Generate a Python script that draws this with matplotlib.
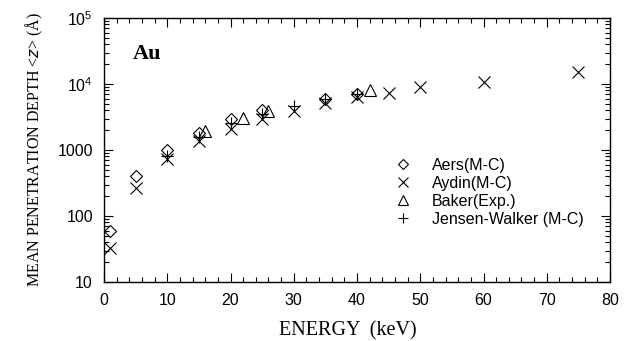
import matplotlib
matplotlib.use('Agg')
from matplotlib import pyplot as plt
from matplotlib.ticker import FixedLocator, FixedFormatter, MultipleLocator, LogLocator, NullFormatter

# data (energy in keV, depth in Angstrom)
aers_x = [1, 5, 10, 15, 20, 25, 35, 40]
aers_y = [59, 400, 1000, 1800, 2950, 4000, 5900, 7100]

aydin_x = [1, 5, 10, 15, 20, 25, 30, 35, 40, 45, 50, 60, 75]
aydin_y = [33, 266, 730, 1370, 2100, 2900, 3900, 5100, 6300, 7300, 9000, 10700, 15200]

baker_x = [16, 22, 26, 42]
baker_y = [1940, 3050, 3900, 8100]

jensen_x = [10, 15, 20, 25, 30, 35, 40]
jensen_y = [810, 1600, 2600, 3500, 4700, 5900, 7100]

ytick_vals = [10, 100, 1000, 1e4, 1e5]
ytick_labels = ['10', '100', '1000', r'$\mathregular{10^4}$', r'$\mathregular{10^5}$']

sans = 'Liberation Sans'
serif = 'Liberation Serif'

fig = plt.figure(figsize=(6.34, 3.41), dpi=100)
ax = fig.add_axes([104/634, 1-282/341, 506/634, 264/341])

mk = dict(linestyle='none', color='black', markerfacecolor='none', markeredgewidth=0.8)
ax.plot(aers_x, aers_y, marker='D', markersize=6.5, label='Aers(M-C)', **mk)
ax.plot(aydin_x, aydin_y, marker='x', markersize=8.5, label='Aydin(M-C)', **mk)
ax.plot(baker_x, baker_y, marker='^', markersize=8, label='Baker(Exp.)', **mk)
ax.plot(jensen_x, jensen_y, marker='+', markersize=9, label='Jensen-Walker (M-C)', **mk)

ax.set_yscale('log')
ax.set_xlim(0, 80)
ax.set_ylim(10, 1e5)

ax.xaxis.set_major_locator(MultipleLocator(10))
ax.xaxis.set_minor_locator(MultipleLocator(2))
ax.yaxis.set_major_locator(FixedLocator(ytick_vals))
ax.yaxis.set_major_formatter(FixedFormatter(ytick_labels))
ax.yaxis.set_minor_locator(LogLocator(base=10, subs=range(2, 10)))
ax.yaxis.set_minor_formatter(NullFormatter())

ax.tick_params(which='both', direction='in', top=True, right=True, width=0.8)
ax.tick_params(which='major', length=6.5, pad=8)
ax.tick_params(which='minor', length=3.5)
for lab in ax.get_xticklabels() + ax.get_yticklabels():
    lab.set_fontfamily(sans)
    lab.set_fontsize(11.5)
for s in ax.spines.values():
    s.set_linewidth(1.0)

ax.set_xlabel('ENERGY  (keV)', fontfamily=serif, fontsize=14.5)
ax.xaxis.set_label_coords(0.482, -0.15)
ax.set_ylabel(r'MEAN PENETRATION DEPTH <$\mathit{z}$> (Å)', fontfamily=serif, fontsize=11.5, labelpad=9)

ax.text(0.057, 0.862, 'Au', transform=ax.transAxes, fontfamily=serif,
        fontsize=16, fontweight='bold', va='center', ha='left')

leg = ax.legend(loc='upper left', bbox_to_anchor=(0.56, 0.50), frameon=False,
                prop={'family': sans, 'size': 11.5}, handlelength=1.0, markerscale=0.85,
                handletextpad=1.3, labelspacing=0.18, borderpad=0)

plt.savefig('out.png', dpi=100)
